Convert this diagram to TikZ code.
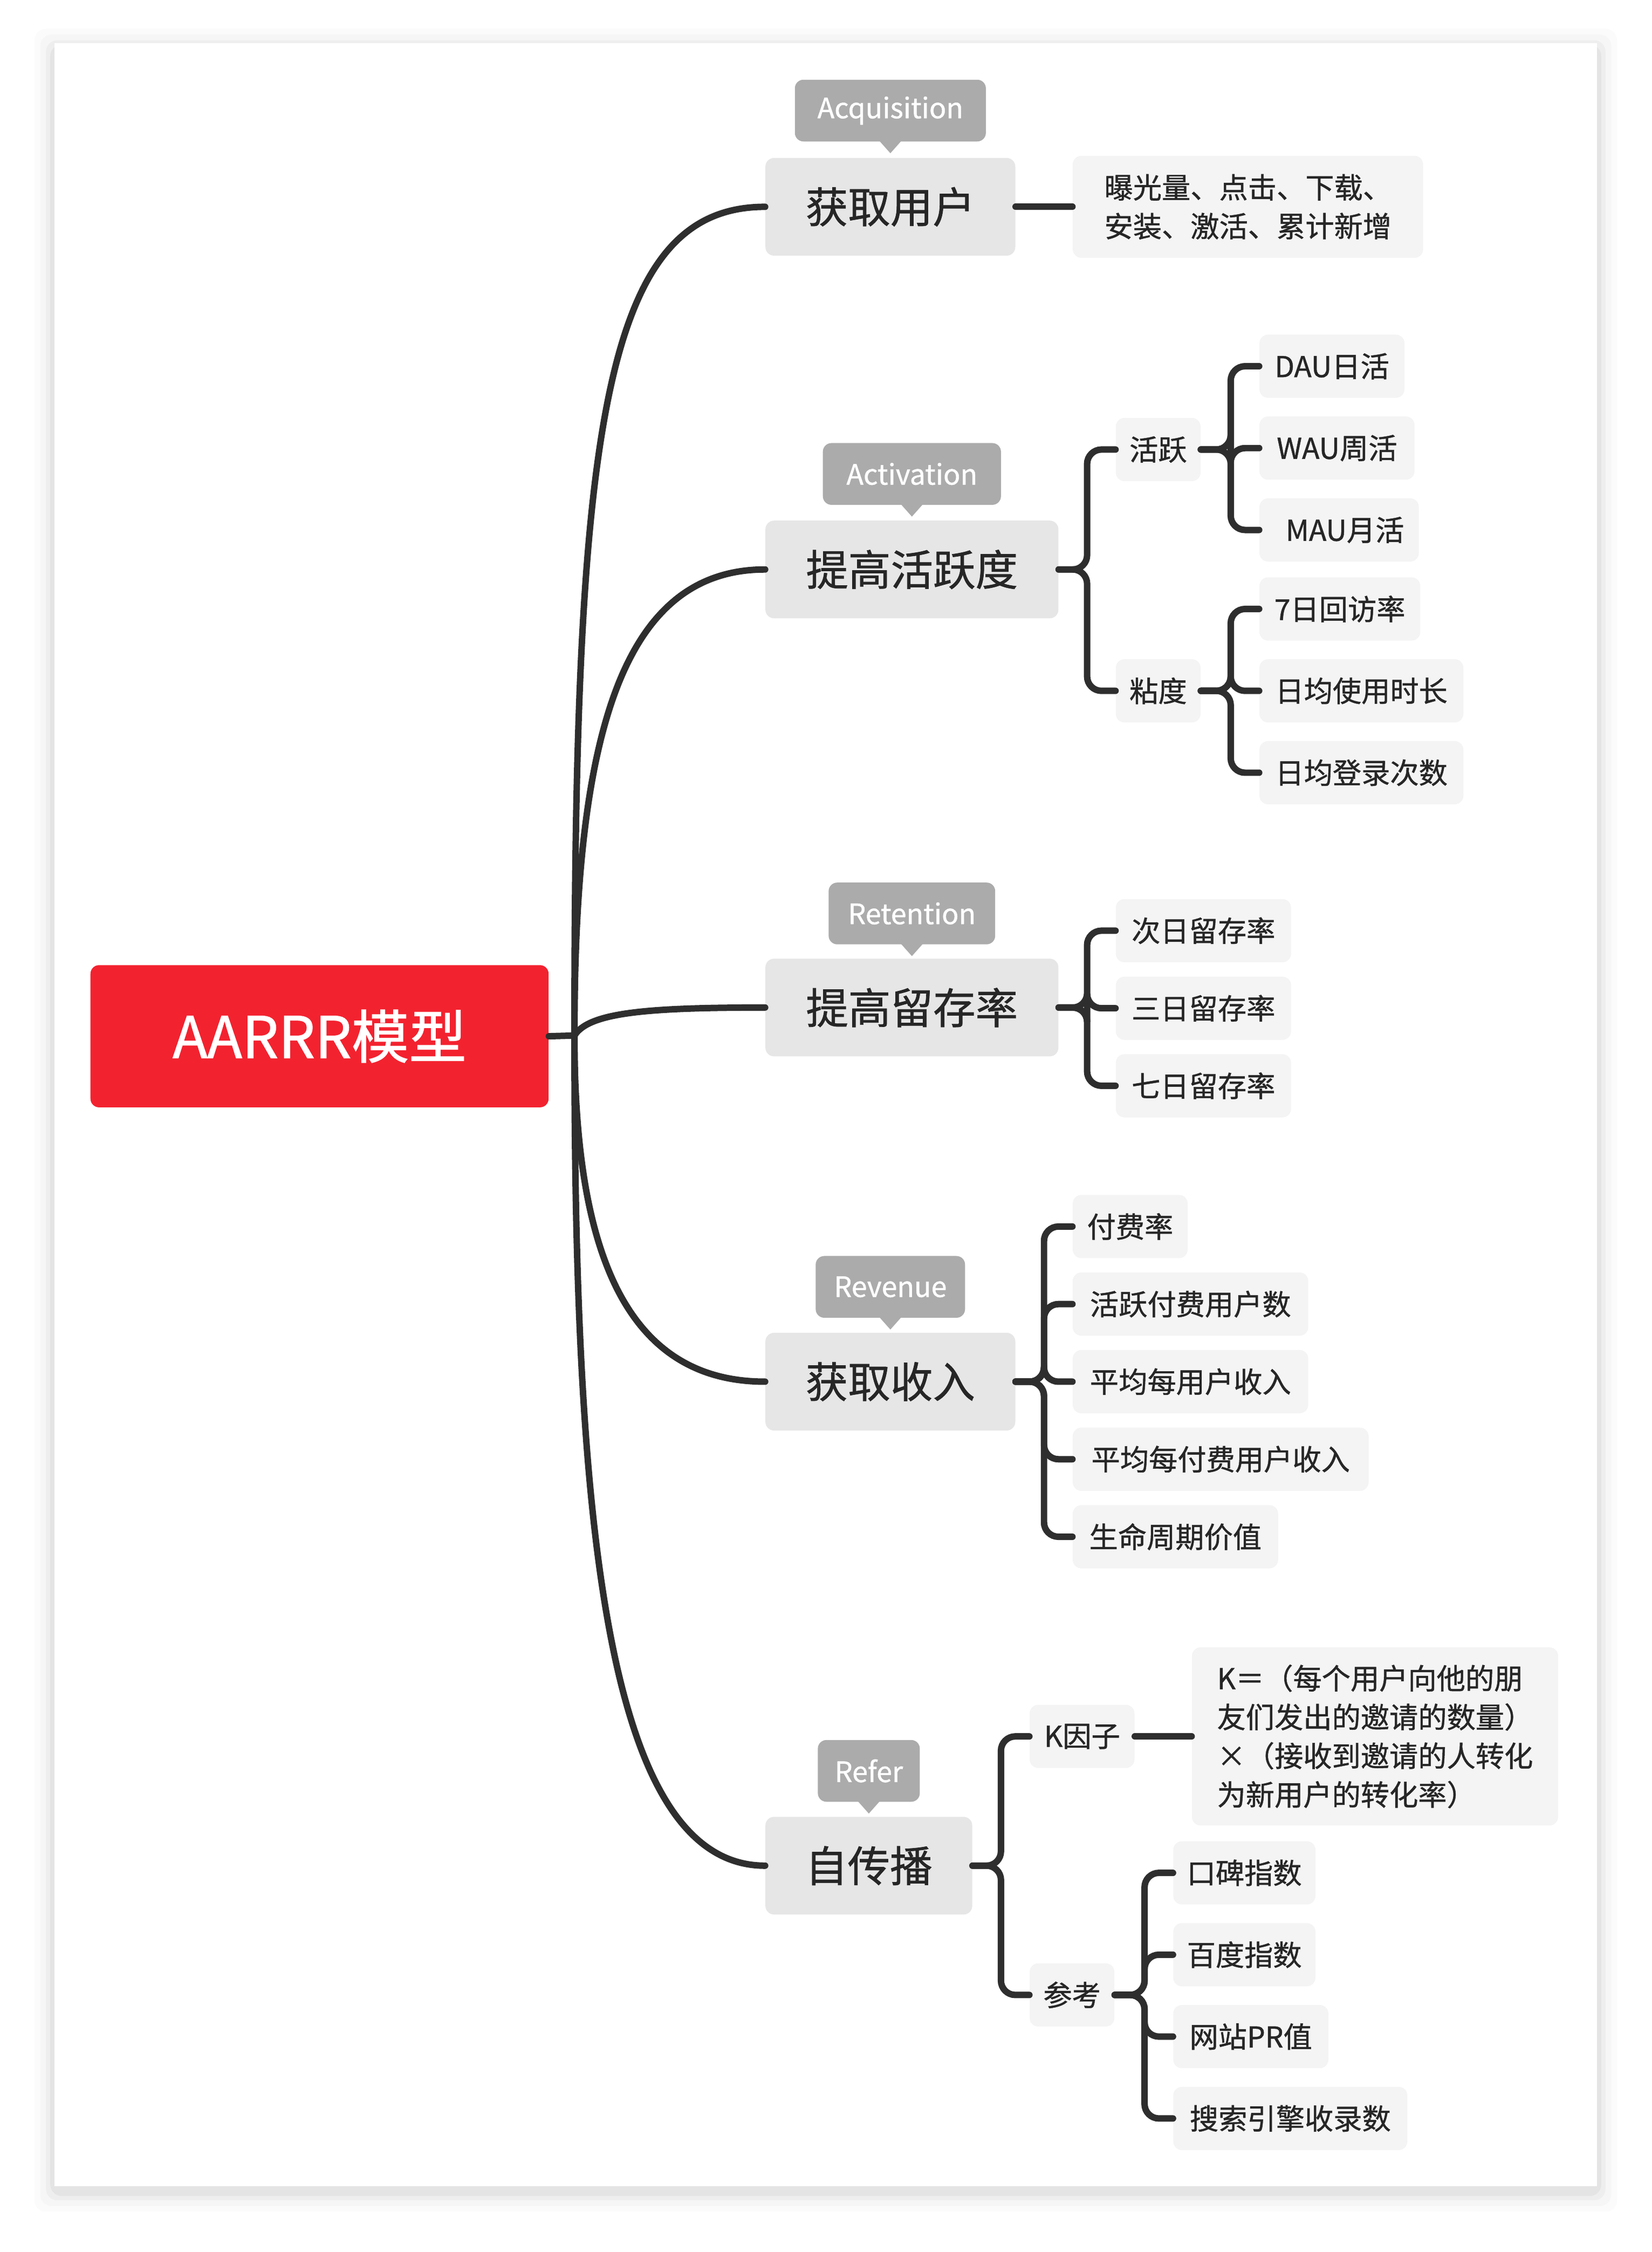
\documentclass[tikz,border=0pt]{standalone}
\usepackage{fontspec}
\setmainfont{Noto Sans CJK SC}[FakeBold=0.9]
\newfontfamily\boldf{Noto Sans CJK SC}[FakeBold=1.2]
\usetikzlibrary{calc}
\definecolor{rootred}{HTML}{F3222F}
\definecolor{lone}{HTML}{E6E6E6}
\definecolor{leafc}{HTML}{F4F4F4}
\definecolor{labc}{HTML}{ABABAB}
\definecolor{linec}{HTML}{2E2E2E}
\tikzset{
 boxb/.style={rounded corners=6pt, inner sep=0pt, align=center, text=black!85},
 lone/.style={boxb, fill=lone, minimum height=68pt, font=\fontsize{29.5}{32}\selectfont},
 leaf/.style={boxb, fill=leafc, minimum height=44pt, font=\fontsize{20}{27}\selectfont},
 lab/.style={boxb, fill=labc, text=white, minimum height=43pt, font=\fontsize{19.5}{22}\selectfont},
 conn/.style={draw=linec, line width=4.5pt, line cap=round},
 elb/.style={conn, rounded corners=10pt},
}
\begin{document}
\begin{tikzpicture}[x=1pt,y=-1pt]
\useasboundingbox (0,0) rectangle (1150,1568);
\fill[white] (0,0) rectangle (1150,1568);
\foreach \d/\o in {14/0.015,10/0.02,6/0.03,3/0.04}{
 \fill[black,opacity=\o,rounded corners=8pt] (38-\d,30-\d+4) rectangle (1112+\d,1522+\d+4);}
\fill[white] (38,30) rectangle (1112,1522);

\node[boxb, fill=rootred, text=white, minimum width=319pt, minimum height=99pt, font=\fontsize{40}{44}\boldf] (root) at (222.5,721.5) {AARRR模型};
\coordinate (r) at (400,721);

% level 1
\node[lone, minimum width=174pt] (a) at (620,144) {获取用户};
\node[lone, minimum width=204pt] (b) at (635,396.5) {提高活跃度};
\node[lone, minimum width=204pt] (c) at (635,701.5) {提高留存率};
\node[lone, minimum width=174pt] (d) at (620,962) {获取收入};
\node[lone, minimum width=144pt] (e) at (605,1299) {自传播};

% labels
\foreach \n/\x/\y/\w/\t in {la/620/77/133/Acquisition, lb/635/330/124/Activation, lc/635/636/116/Retention, ld/620/896/104/Revenue, le/605/1233/71/Refer}{
 \node[lab, minimum width=\w pt] (\n) at (\x,\y) {\t};
 \fill[labc] ($(\n.south)+(-8,-1)$) -- ($(\n.south)+(8,-1)$) -- ($(\n.south)+(0,8)$) -- cycle;
}

% root connectors
\draw[conn] (root.east) -- (r);
\draw[conn] (r) .. controls (400,300) and (420,144) .. (a.west);
\draw[conn] (r) .. controls (400,520) and (430,396.5) .. (b.west);
\draw[conn] (r) .. controls (410,705) and (450,701.5) .. (c.west);
\draw[conn] (r) .. controls (400,860) and (430,962) .. (d.west);
\draw[conn] (r) .. controls (400,1050) and (420,1299) .. (e.west);

% Acquisition
\node[leaf, minimum width=244pt, minimum height=71pt, align=left] (a1) at (869,144) {曝光量、点击、下载、\\安装、激活、累计新增\hspace{22pt}};
\draw[conn] (a.east) -- (a1.west);

% Activation
\node[leaf, minimum width=59pt] (b1) at (806.5,313) {活跃};
\node[leaf, minimum width=59pt] (b2) at (806.5,481) {粘度};
\coordinate (bx) at (757,0);
\foreach \c in {b1,b2}{\draw[elb] (b.east) -- (b.east -| bx) |- (\c.west);}
\node[leaf, minimum width=101pt] (b11) at (927.5,255) {DAU日活};
\node[leaf, minimum width=108pt] (b12) at (931,312) {WAU周活};
\node[leaf, minimum width=111pt] (b13) at (932.5,369) {\hspace{8pt}MAU月活};
\node[leaf, minimum width=112pt] (b21) at (933,424) {7日回访率};
\node[leaf, minimum width=142pt] (b22) at (948,481) {日均使用时长};
\node[leaf, minimum width=142pt] (b23) at (948,538) {日均登录次数};
\coordinate (bbx) at (857,0);
\foreach \c in {b11,b12,b13}{\draw[elb] (b1.east) -- (b1.east -| bbx) |- (\c.west);}
\foreach \c in {b21,b22,b23}{\draw[elb] (b2.east) -- (b2.east -| bbx) |- (\c.west);}

% Retention
\node[leaf, minimum width=122pt] (c1) at (838,648) {次日留存率};
\node[leaf, minimum width=122pt] (c2) at (838,702) {三日留存率};
\node[leaf, minimum width=122pt] (c3) at (838,756) {七日留存率};
\coordinate (cx) at (757,0);
\foreach \c in {c1,c2,c3}{\draw[elb] (c.east) -- (c.east -| cx) |- (\c.west);}

% Revenue
\node[leaf, minimum width=80pt] (d1) at (787,854) {付费率};
\node[leaf, minimum width=164pt] (d2) at (829,908) {活跃付费用户数};
\node[leaf, minimum width=164pt] (d3) at (829,962) {平均每用户收入};
\node[leaf, minimum width=206pt] (d4) at (850,1016) {平均每付费用户收入};
\node[leaf, minimum width=143pt] (d5) at (818.5,1070) {生命周期价值};
\coordinate (dx) at (727,0);
\foreach \c in {d1,d2,d3,d4,d5}{\draw[elb] (d.east) -- (d.east -| dx) |- (\c.west);}

% Refer
\node[leaf, minimum width=73pt] (e1) at (753.5,1209) {K因子};
\node[leaf, minimum width=59pt] (e2) at (746.5,1389) {参考};
\coordinate (ex) at (697,0);
\foreach \c in {e1,e2}{\draw[elb] (e.east) -- (e.east -| ex) |- (\c.west);}
\node[leaf, minimum width=255pt, minimum height=124pt, align=left] (e11) at (957.5,1209) {K＝（每个用户向他的朋\\友们发出的邀请的数量）\\×（接收到邀请的人转化\\为新用户的转化率）\hspace{22pt}};
\draw[conn] (e1.east) -- (e11.west);
\node[leaf, minimum width=99pt] (e21) at (866.5,1304) {口碑指数};
\node[leaf, minimum width=99pt] (e22) at (866.5,1361) {百度指数};
\node[leaf, minimum width=108pt] (e23) at (871,1418) {网站PR值};
\node[leaf, minimum width=163pt] (e24) at (898.5,1475) {搜索引擎收录数};
\coordinate (eex) at (797,0);
\foreach \c in {e21,e22,e23,e24}{\draw[elb] (e2.east) -- (e2.east -| eex) |- (\c.west);}
\end{tikzpicture}
\end{document}
